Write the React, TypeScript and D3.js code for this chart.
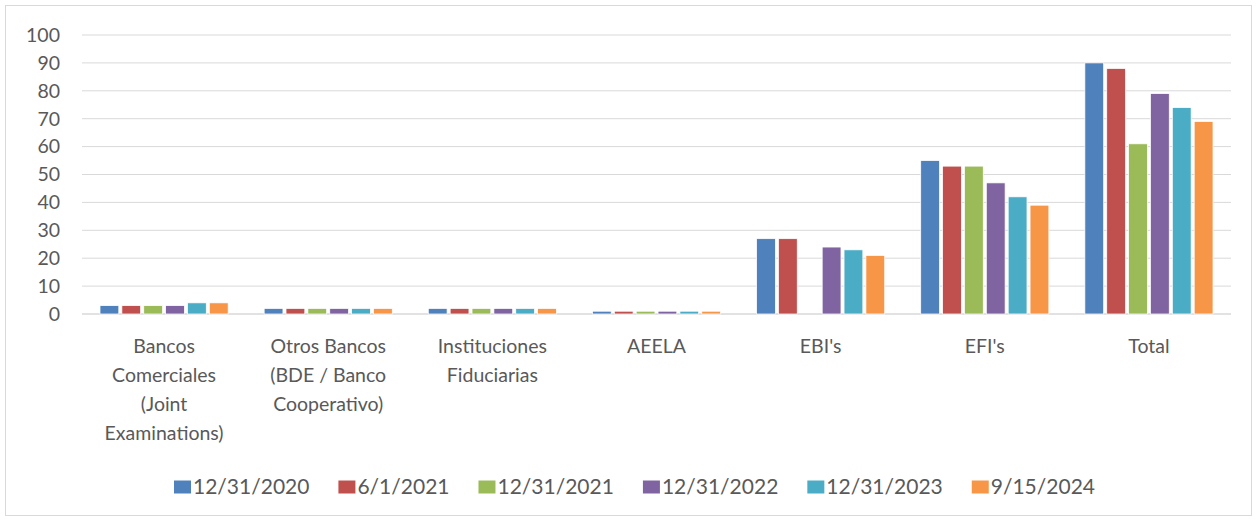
import * as d3 from "d3";

const categories = [
  ["Bancos", "Comerciales", "(Joint", "Examinations)"],
  ["Otros Bancos", "(BDE / Banco", "Cooperativo)"],
  ["Instituciones", "Fiduciarias"],
  ["AEELA"],
  ["EBI's"],
  ["EFI's"],
  ["Total"],
];
const seriesNames = ["12/31/2020", "6/1/2021", "12/31/2021", "12/31/2022", "12/31/2023", "9/15/2024"];
const seriesColors = ["#4f81bd", "#c0504d", "#9bbb59", "#8064a2", "#4bacc6", "#f79646"];
// one row per category, one value per series
const values = [
  [3, 3, 3, 3, 4, 4],
  [2, 2, 2, 2, 2, 2],
  [2, 2, 2, 2, 2, 2],
  [1, 1, 1, 1, 1, 1],
  [27, 27, 0, 24, 23, 21],
  [55, 53, 53, 47, 42, 39],
  [90, 88, 61, 79, 74, 69],
];
const yTicks = [0, 10, 20, 30, 40, 50, 60, 70, 80, 90, 100];

const width = 1257;
const height = 521;
const font = "Lato, 'Liberation Sans', sans-serif";
const fontSize = 19.5;
const legendFontSize = 21;
const textColor = "#595959";

function measure(text: string, size: number) {
  const ctx = document.createElement("canvas").getContext("2d");
  if (!ctx) return text.length * 10;
  ctx.font = `${size}px Lato`;
  return ctx.measureText(text).width;
}

export default function App() {
  const marginLeft = 82;
  const marginRight = 1231;
  const top = 35;
  const bottom = 314;

  const x0 = d3.scaleBand<number>().domain(d3.range(categories.length)).range([marginLeft, marginRight]);
  const groupGap = 18;
  const x1 = d3
    .scaleBand<number>()
    .domain(d3.range(seriesNames.length))
    .range([groupGap, x0.bandwidth() - groupGap])
    .paddingInner(0.14);
  const y = d3.scaleLinear().domain([0, 100]).range([bottom, top]);

  // legend layout
  const sqW = 17;
  const sqH = 13;
  const itemGap = 29;
  let lx = 174;
  const legendX = seriesNames.map((s) => {
    const cur = lx;
    lx += sqW + 2 + measure(s, legendFontSize) + itemGap;
    return cur;
  });

  return (
    <svg width={width} height={height} style={{ display: "block", position: "absolute", left: 0, top: 0 }}>
      <rect x={0} y={0} width={width} height={height} fill="white" />
      <rect x={5.5} y={5.5} width={1246} height={510} fill="white" stroke="#d9d9d9" />
      <g>
        {yTicks.map((t) => (
          <g key={t}>
            <line
              x1={marginLeft}
              x2={marginRight}
              y1={y(t)}
              y2={y(t)}
              stroke="#d9d9d9"
              strokeWidth={t === 0 ? 1.5 : 1}
            />
            <text
              x={60}
              y={y(t)}
              dy="0.35em"
              textAnchor="end"
              fontFamily={font}
              fontSize={fontSize}
              fill={textColor}
            >
              {t}
            </text>
          </g>
        ))}
      </g>
      <g>
        {values.map((row, ci) => (
          <g key={ci} transform={`translate(${x0(ci)},0)`}>
            {row.map((v, si) =>
              v > 0 ? (
                <rect
                  key={si}
                  x={x1(si)}
                  y={y(v)}
                  width={x1.bandwidth()}
                  height={y(0) - y(v)}
                  fill={seriesColors[si]}
                  stroke="white"
                  strokeWidth={0.75}
                />
              ) : null
            )}
          </g>
        ))}
      </g>
      <g>
        {categories.map((lines, ci) => (
          <text
            key={ci}
            x={(x0(ci) ?? 0) + x0.bandwidth() / 2}
            y={353}
            textAnchor="middle"
            fontFamily={font}
            fontSize={fontSize}
            fill={textColor}
          >
            {lines.map((l, li) => (
              <tspan key={li} x={(x0(ci) ?? 0) + x0.bandwidth() / 2} dy={li === 0 ? 0 : 29}>
                {l}
              </tspan>
            ))}
          </text>
        ))}
      </g>
      <g>
        {seriesNames.map((s, i) => (
          <g key={s} transform={`translate(${legendX[i]},487)`}>
            <rect x={0} y={-sqH / 2} width={sqW} height={sqH} fill={seriesColors[i]} />
            <text x={sqW + 2} y={0} dy="0.35em" fontFamily={font} fontSize={legendFontSize} fill={textColor}>
              {s}
            </text>
          </g>
        ))}
      </g>
    </svg>
  );
}
